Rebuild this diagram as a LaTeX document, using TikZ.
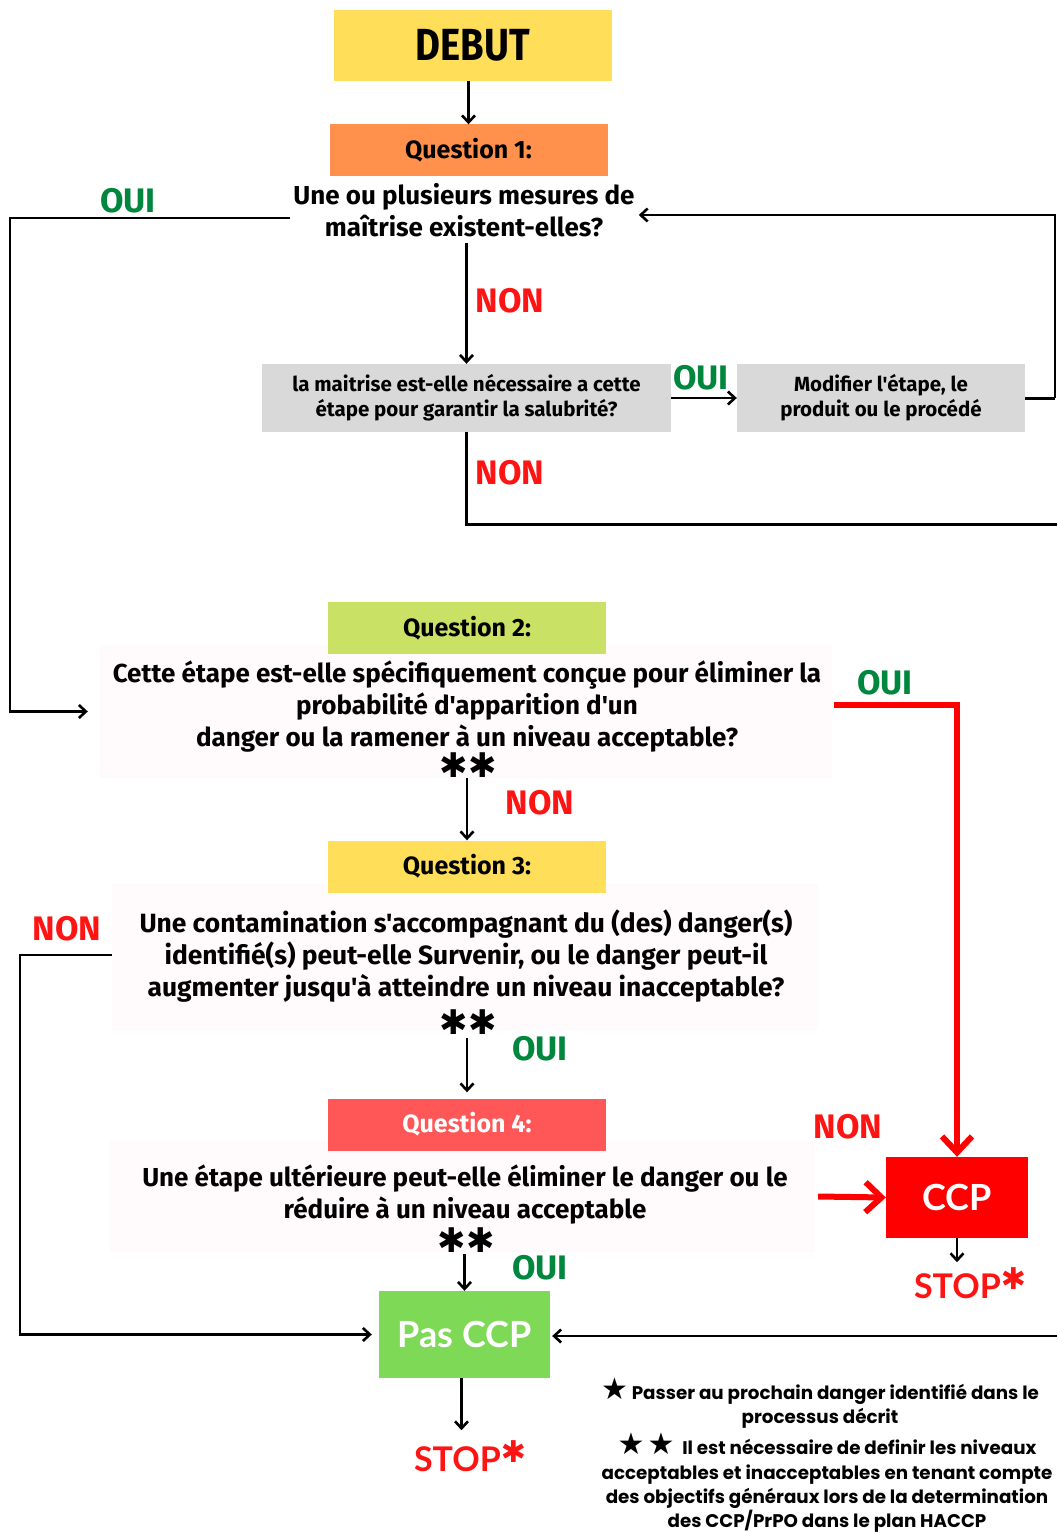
\documentclass[tikz,border=0pt]{standalone}
\usepackage{fontspec}
\setmainfont{Lato}
\newfontfamily\cond{Fira Sans}
\newfontfamily\narrow[FakeStretch=0.85]{Fira Sans}
\newfontfamily\geo{Poppins}
\newfontfamily\sym{DejaVu Sans}
\usetikzlibrary{arrows.meta}

\definecolor{debutyellow}{HTML}{FFDE59}
\definecolor{qorange}{HTML}{FF914D}
\definecolor{qlime}{HTML}{C9E265}
\definecolor{qred}{HTML}{FF5757}
\definecolor{greybox}{HTML}{D9D9D9}
\definecolor{bgtint}{HTML}{FFFAFB}
\definecolor{ouigreen}{HTML}{00873D}
\definecolor{nonred}{HTML}{FF1414}
\definecolor{ccpred}{HTML}{FF0000}
\definecolor{pasgreen}{HTML}{7ED957}

\tikzset{
  box/.style={rectangle, inner sep=0pt, align=center, text=black},
  hdr/.style={box, minimum width=278pt, minimum height=52pt,
    font=\cond\bfseries\fontsize{25}{30}\selectfont},
  qtext/.style={align=center, inner sep=0pt,
    font=\cond\bfseries\fontsize{26}{32}\selectfont},
  qbg/.style={rectangle, fill=bgtint, inner sep=0pt},
  gbox/.style={box, fill=greybox, minimum height=68pt,
    font=\cond\bfseries\fontsize{20.5}{25}\selectfont},
  oui/.style={text=ouigreen, inner sep=0pt, font=\cond\bfseries\fontsize{34}{34}\selectfont},
  non/.style={text=nonred, inner sep=0pt, font=\cond\bfseries\fontsize{34}{34}\selectfont},
  stars/.style={inner sep=0pt, font=\sym\fontsize{34}{34}\selectfont},
  stoplabel/.style={text=nonred, inner sep=0pt, font=\bfseries\fontsize{34}{34}\selectfont},
  note/.style={align=center, inner sep=0pt, font=\geo\bfseries\fontsize{18.3}{24.3}\selectfont},
  flow/.style={line width=3pt},
  link/.style={line width=2.6pt, -{Straight Barb[length=7pt,width=13pt]}},
  redlink/.style={draw=ccpred, line width=6pt, -{Straight Barb[length=16pt,width=30pt]}},
}
\newcommand\stopstar{\raisebox{9pt}{\sym\fontsize{30}{30}\selectfont ✱}}
\newcommand\notestar{{\sym\fontsize{30}{24}\selectfont ★}}

\begin{document}
\begin{tikzpicture}[x=1pt, y=-1pt]
\useasboundingbox (0,0) rectangle (1057,1533);

% ---------- question backgrounds ----------
\node[qbg, minimum width=732pt, minimum height=133pt] (q2bg) at (466,711.5) {};
\node[qbg, minimum width=706pt, minimum height=146pt] (q3bg) at (465,957) {};
\node[qbg, minimum width=705pt, minimum height=111pt] (q4bg) at (462.5,1196.5) {};

% ---------- boxes ----------
\node[box, fill=debutyellow, minimum width=278pt, minimum height=71pt,
      font=\narrow\bfseries\fontsize{45}{45}\selectfont] (debut) at (473,45.5) {DEBUT};

\node[hdr, fill=qorange] (q1h) at (468.5,150.5) {Question 1:};
\node[qtext] (q1t) at (464,210) {Une ou plusieurs mesures de\\maîtrise existent-elles?};

\node[gbox, minimum width=409pt] (mait) at (466.5,398)
  {la maitrise est-elle nécessaire a cette\\étape pour garantir la salubrité?};
\node[gbox, minimum width=288pt] (modif) at (881,398)
  {Modifier l'étape, le\\produit ou le procédé};

\node[hdr, fill=qlime] (q2h) at (467,628) {Question 2:};
\node[qtext] (q2t) at (467,707)
  {Cette étape est-elle spécifiquement conçue pour éliminer la\\
   probabilité d'apparition d'un\\
   danger ou la ramener à un niveau acceptable?};
\node[stars] (q2s) at (468,765) {✱✱};

\node[hdr, fill=debutyellow] (q3h) at (467,866.5) {Question 3:};
\node[qtext, font=\cond\bfseries\fontsize{26.4}{32}\selectfont] (q3t) at (466,956)
  {Une contamination s'accompagnant du (des) danger(s)\\
   identifié(s) peut-elle Survenir, ou le danger peut-il\\
   augmenter jusqu'à atteindre un niveau inacceptable?};
\node[stars] (q3s) at (468,1022) {✱✱};

\node[hdr, fill=qred, text=white] (q4h) at (467,1124.5) {Question 4:};
\node[qtext] (q4t) at (465,1195)
  {Une étape ultérieure peut-elle éliminer le danger ou le\\
   réduire à un niveau acceptable};
\node[stars] (q4s) at (466,1240) {✱✱};

\node[box, fill=ccpred, text=white, minimum width=142pt, minimum height=81pt,
      font=\bfseries\fontsize{36}{36}\selectfont] (ccp) at (957,1197.5) {CCP};
\node[box, fill=pasgreen, text=white, minimum width=171pt, minimum height=87pt,
      font=\bfseries\fontsize{36}{36}\selectfont] (pas) at (464.5,1334.5) {Pas CCP};

\node[stoplabel] (stop1) at (970,1283) {STOP\stopstar};
\node[stoplabel] (stop2) at (470,1456) {STOP\stopstar};

% ---------- yes / no labels ----------
\node[oui] (oui1) at (128,201) {OUI};
\node[non] (non1) at (510,301) {NON};
\node[oui] (oui2) at (701,378) {OUI};
\node[non] (non2) at (510,473) {NON};
\node[oui] (oui3) at (885,683) {OUI};
\node[non] (non3) at (540,803) {NON};
\node[non] (non4) at (67,929) {NON};
\node[oui] (oui4) at (540,1049) {OUI};
\node[non] (non5) at (848,1127) {NON};
\node[oui] (oui5) at (540,1268) {OUI};

% ---------- free ends and corners ----------
\coordinate (lft1) at (10,218);
\coordinate (rgt1) at (1055,398);
\coordinate (rgt2) at (1057,524);
\coordinate (lft3) at (20,955);
\coordinate (rgt3) at (1057,1336);

% ---------- connectors ----------
\draw[link] (q1h.north |- debut.south) -- (q1h.north);
\draw[link] ([xshift=-3pt]q1t.west |- lft1) -- (lft1)
  |- ([xshift=-12pt]q2bg.west);
\draw[flow] (modif.east) -- (rgt1);
\draw[link] (rgt1) |- ([xshift=4pt,yshift=-5pt]q1t.east);
\draw[link] (mait.north |- q1t.south) ++(0,6) -- (mait.north);
\draw[link] (mait.east) -- (modif.west);
\draw[flow] (mait.south) |- (rgt2);

\draw[redlink] ([yshift=7pt]q2bg.east) ++(2,0) -| (ccp.north);
\draw[link] (q3h.north |- q2bg.south) -- (q3h.north);

\draw[link] ([yshift=2pt]q3bg.west) -- (lft3) |- ([xshift=-7pt]pas.west);
\draw[link] (q4h.north |- q3bg.south) ++(0,8) -- ([yshift=6pt]q4h.north);

\draw[redlink] ([xshift=3pt]q4bg.east) -- (ccp.west);
\draw[link] (pas.north |- q4bg.south) ++(0,2) -- (pas.north);

\draw[link] (ccp.south) -- ++(0,24);
\draw[link] (rgt3) -- ([xshift=2pt]rgt3 -| pas.east);
\draw[link] ([xshift=-3pt]pas.south) -- ++(0,52);

% ---------- notes ----------
\node[note] (note1) at (820,1403)
  {\notestar\ Passer au prochain danger identifié dans le\\processus décrit};
\node[note] (note2) at (827,1483)
  {\notestar\,\notestar\ \ Il est nécessaire de definir les niveaux\\
   acceptables et inacceptables en tenant compte\\
   des objectifs généraux lors de la determination\\
   des CCP/PrPO dans le plan HACCP};
\end{tikzpicture}
\end{document}
